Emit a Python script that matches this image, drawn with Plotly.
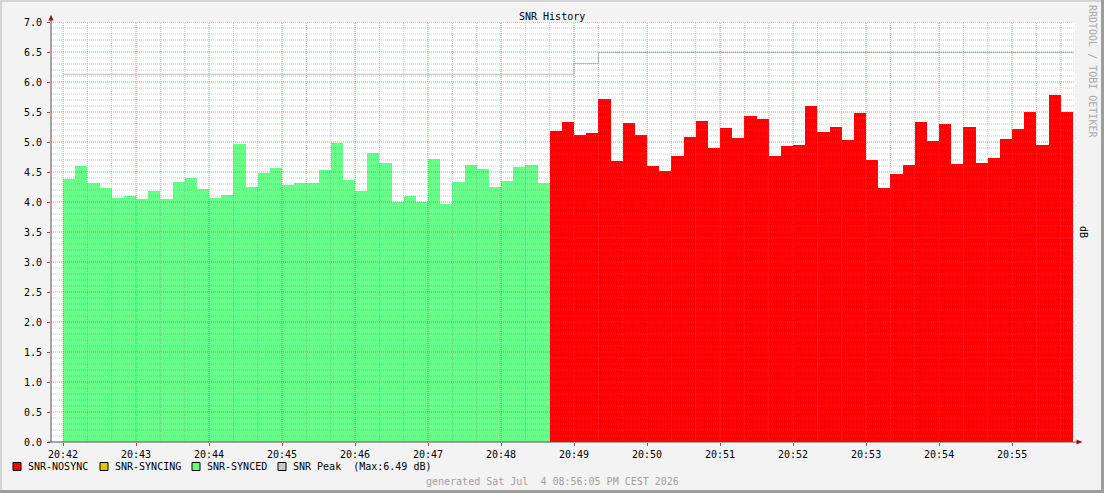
import numpy as np
import pandas as pd
import plotly.graph_objects as go

# SNR samples, one every 10 s starting 20:42:00
snr_synced = [4.38, 4.60, 4.32, 4.24, 4.07, 4.10, 4.05, 4.18, 4.05, 4.33,
              4.40, 4.22, 4.07, 4.12, 4.97, 4.25, 4.48, 4.57, 4.28, 4.32,
              4.32, 4.53, 4.98, 4.37, 4.18, 4.82, 4.65, 4.00, 4.10, 4.00,
              4.72, 3.97, 4.33, 4.62, 4.55, 4.25, 4.35, 4.58, 4.62, 4.32]
snr_nosync = [5.18, 5.33, 5.12, 5.15, 5.72, 4.68, 5.32, 5.12, 4.60, 4.52,
              4.77, 5.08, 5.35, 4.90, 5.23, 5.07, 5.43, 5.38, 4.77, 4.93,
              4.95, 5.60, 5.17, 5.25, 5.03, 5.48, 4.70, 4.23, 4.47, 4.62,
              5.33, 5.02, 5.30, 4.63, 5.25, 4.65, 4.73, 5.05, 5.22, 5.50,
              4.95, 5.78, 5.50]
snr_peak = [6.13] * 42 + [6.31] * 2 + [6.49] * 39

legend_labels = ["SNR-NOSYNC", "SNR-SYNCING", "SNR-SYNCED",
                 "SNR Peak\u00a0\u00a0(Max:6.49 dB)"]
legend_colors = ["#ff0000", "#e0c800", "#66ff88", "#c8c8c8"]

times = pd.date_range("2026-07-04 20:42:00", periods=len(snr_synced) + len(snr_nosync), freq="10s")
t_end = times[-1] + pd.Timedelta(seconds=10)

FONT = "DejaVu Sans Mono"
L, R, T, B = 51, 29, 22, 51
W, H = 1104 - L - R, 493 - T - B


def px(x):
    return (x - L) / W


def py(y):
    return (T + H - y) / H


fig = go.Figure()
fig.add_trace(go.Bar(x=times[:len(snr_synced)], y=snr_synced, width=10000, offset=0,
                     marker=dict(color="#66ff88", line=dict(width=0)), showlegend=False))
fig.add_trace(go.Bar(x=times[len(snr_synced):], y=snr_nosync, width=10000, offset=0,
                     marker=dict(color="#ff0000", line=dict(width=0)), showlegend=False))
fig.add_trace(go.Scatter(x=list(times) + [t_end], y=snr_peak + [snr_peak[-1]],
                         mode="lines", line=dict(color="#bdbdbd", width=1, shape="hv"),
                         showlegend=False))

MAJOR = "rgba(230,60,60,0.6)"
MINOR = "rgba(128,128,128,0.42)"
shapes = []
# grid drawn above the fills, as rrdtool does
for v in np.round(np.arange(0.1, 7.01, 0.1), 1):
    major = abs(v * 2 - round(v * 2)) < 1e-6
    shapes.append(dict(type="line", xref="paper", yref="y", x0=0, x1=1, y0=v, y1=v,
                       layer="above",
                       line=dict(color=MAJOR if major else MINOR, width=1, dash="1px,1px")))
for t in pd.date_range("2026-07-04 20:42:00", "2026-07-04 20:55:40", freq="20s"):
    major = t.second == 0
    shapes.append(dict(type="line", xref="x", yref="paper", x0=t, x1=t, y0=0, y1=1,
                       layer="above",
                       line=dict(color=MAJOR if major else MINOR, width=1, dash="1px,1px")))

# axes with arrows
shapes.append(dict(type="line", xref="paper", yref="paper", x0=px(51), x1=px(51), y0=py(442), y1=py(17),
                   line=dict(color="#555555", width=1)))
shapes.append(dict(type="line", xref="paper", yref="paper", x0=px(48), x1=px(1078), y0=py(442), y1=py(442),
                   line=dict(color="#555555", width=1)))
shapes.append(dict(type="path", xref="paper", yref="paper", fillcolor="#8b1a1a", line=dict(width=0),
                   path=f"M {px(48.5)} {py(20.5)} L {px(53.5)} {py(20.5)} L {px(51)} {py(14.5)} Z"))
shapes.append(dict(type="path", xref="paper", yref="paper", fillcolor="#8b1a1a", line=dict(width=0),
                   path=f"M {px(1076.5)} {py(439.5)} L {px(1076.5)} {py(444.5)} L {px(1082.5)} {py(442)} Z"))

# frame
shapes.append(dict(type="rect", xref="paper", yref="paper", x0=px(0), x1=px(1104), y0=py(2), y1=py(0),
                   fillcolor="#d4d4d4", line=dict(width=0)))
shapes.append(dict(type="rect", xref="paper", yref="paper", x0=px(0), x1=px(2), y0=py(493), y1=py(0),
                   fillcolor="#d4d4d4", line=dict(width=0)))
shapes.append(dict(type="rect", xref="paper", yref="paper", x0=px(0), x1=px(1104), y0=py(493), y1=py(490),
                   fillcolor="#9c9c9c", line=dict(width=0)))
shapes.append(dict(type="rect", xref="paper", yref="paper", x0=px(1101), x1=px(1104), y0=py(493), y1=py(0),
                   fillcolor="#9c9c9c", line=dict(width=0)))

annotations = [
    dict(text="SNR History", x=px(552), y=py(16), font=dict(size=10, color="#000")),
    dict(text="RRDTOOL / TOBI OETIKER", x=px(1093), y=py(71), textangle=90,
         font=dict(size=10, color="#a8a8a8")),
    dict(text="dB", x=px(1084), y=py(232), textangle=90, font=dict(size=10, color="#000")),
    dict(text="generated Sat Jul\u00a0\u00a04 08:56:05 PM CEST 2026", x=px(552), y=py(481),
         font=dict(size=10, color="#a0a0a0")),
]

# legend drawn like rrdtool's
box_left = [13, 100, 192, 278]
for bx, label, color in zip(box_left, legend_labels, legend_colors):
    shapes.append(dict(type="rect", xref="paper", yref="paper", x0=px(bx), x1=px(bx + 8),
                       y0=py(470.5), y1=py(462.5), fillcolor=color, line=dict(color="#000", width=1)))
    annotations.append(dict(text=label, x=px(bx + 13), y=py(466.5), xanchor="left",
                            font=dict(size=10, color="#000")))

for a in annotations:
    a.update(xref="paper", yref="paper", showarrow=False)
    a.setdefault("xanchor", "center")
    a.setdefault("yanchor", "middle")

fig.update_layout(
    width=1104, height=493,
    margin=dict(l=L, r=R, t=T, b=B, pad=0),
    paper_bgcolor="#f3f3f3", plot_bgcolor="#ffffff",
    font=dict(family=FONT, size=10, color="#000"),
    barmode="overlay", bargap=0,
    showlegend=False,
    shapes=shapes, annotations=annotations,
    xaxis=dict(type="date",
               range=["2026-07-04 20:41:50.1", "2026-07-04 20:55:51.7"],
               tick0="2026-07-04 20:42:00", dtick=60000, tickformat="%H:%M",
               showgrid=False, zeroline=False, showline=False,
               ticks="outside", ticklen=3, tickcolor="#c04040"),
    yaxis=dict(range=[0, 7], dtick=0.5, tickformat=".1f",
               showgrid=False, zeroline=False, showline=False,
               ticks="outside", ticklen=3, tickcolor="#c04040", ticklabelstandoff=3),
)

fig.write_html("out.html", config={"displayModeBar": False},
               post_script="document.body.style.margin='0';document.body.style.overflow='hidden';")
